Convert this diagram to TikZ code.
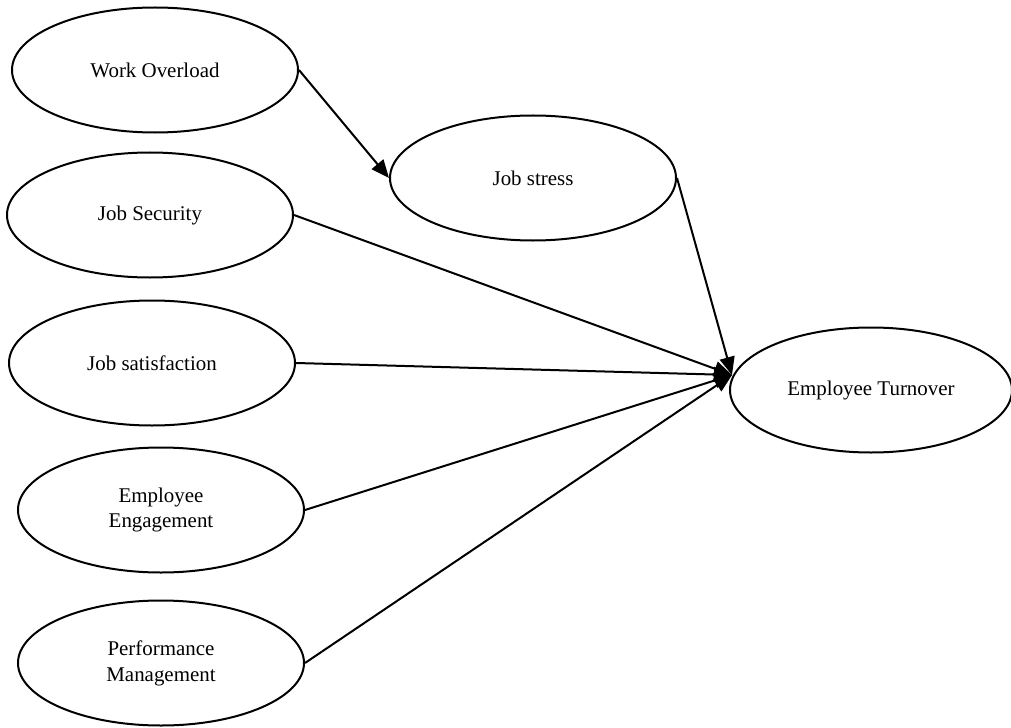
\documentclass[tikz,border=0pt]{standalone}
\usepackage{fontspec}
\setmainfont{Liberation Serif}
\usetikzlibrary{shapes.geometric,arrows.meta}
\begin{document}
\begin{tikzpicture}[x=1bp,y=-1bp,
  oval/.style={ellipse,draw=black,line width=2bp,minimum width=286bp,minimum height=125bp,inner sep=0pt,align=center,font=\fontsize{21}{26}\selectfont},
  link/.style={line width=2bp,-{Triangle[length=18bp,width=15bp]}}]
\useasboundingbox (0,0) rectangle (1011,728);
\node[oval] (WO) at (155,70) {Work Overload};
\node[oval] (JS) at (533,178) {Job stress};
\node[oval] (SEC) at (150,215) {Job Security};
\node[oval] (SAT) at (152,363) {Job satisfaction};
\node[oval] (EE) at (161,510) {Employee\\Engagement};
\node[oval] (PM) at (161,663) {Performance\\Management};
\node[oval, minimum width=282bp] (ET) at (871,390) {Employee Turnover};
\coordinate (tip) at ([xshift=3bp,yshift=15bp]ET.west);
\draw[link] (WO.east) -- (JS.west);
\draw[link] (JS.east) -- (tip);
\draw[link] (SEC.east) -- (tip);
\draw[link] (SAT.east) -- (tip);
\draw[link] (EE.east) -- (tip);
\draw[link] (PM.east) -- (tip);
\end{tikzpicture}
\end{document}
